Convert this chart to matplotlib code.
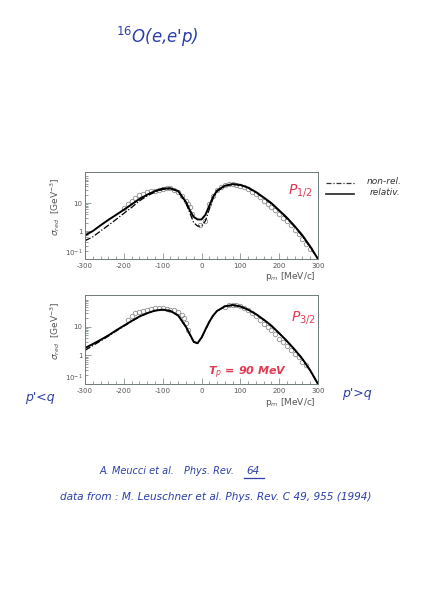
import matplotlib
matplotlib.use("Agg")
import matplotlib.pyplot as plt
from matplotlib.ticker import FixedLocator, MultipleLocator, NullFormatter

INK = "#2b3ea8"
RED = "#e23a52"
AXC = "#6f7b7b"

# p_m grid of the theory curves (MeV/c)
pm = [-300, -280, -260, -240, -220, -200, -180, -160, -140, -120, -100, -80, -60,
      -40, -30, -20, -10, 0, 10, 20, 30, 40, 60, 80, 100, 120, 140, 160, 180,
      200, 220, 240, 260, 280, 300]

# p1/2 : relativistic (solid) and non-relativistic (dash-dot)
p12_rel = [0.7, 1.0, 1.6, 2.5, 3.8, 5.8, 9.0, 14, 20, 27, 33, 34, 27,
           11, 5.5, 3.2, 2.6, 2.6, 3.8, 8.0, 17, 28, 42, 48, 45, 36, 25, 16, 10,
           5.5, 3.0, 1.5, 0.7, 0.28, 0.1]
p12_nonrel = [0.45, 0.62, 1.0, 1.6, 2.6, 4.3, 7.0, 12, 18, 25, 31, 33, 26,
              10, 4.5, 2.0, 1.5, 1.5, 2.3, 6.0, 15, 26, 41, 47, 44, 35, 24, 15.5, 9.5,
              5.2, 2.8, 1.4, 0.65, 0.26, 0.1]

# p3/2
p32_rel = [1.8, 2.5, 3.5, 5.0, 7.5, 11, 16, 23, 30, 37, 40, 36, 25,
           10, 5.5, 3.0, 2.7, 4.2, 8.0, 15, 25, 36, 52, 58, 52, 40, 28, 18, 11,
           6.0, 3.2, 1.6, 0.75, 0.3, 0.1]
p32_nonrel = [1.5, 2.2, 3.2, 4.7, 7.1, 10.5, 15.5, 22.5, 29.5, 36.5, 39.5, 35.5, 24.5,
              9.7, 5.3, 2.9, 2.6, 4.0, 7.7, 14.5, 24.5, 35.5, 51, 57, 51, 39.5, 27.5, 17.5, 10.8,
              5.9, 3.1, 1.55, 0.73, 0.29, 0.1]

# data (Leuschner et al.)
d12_x = [-200, -190, -180, -170, -160, -150, -140, -130, -120, -110, -100, -90, -80,
         -70, -60, -50, -40, -35, -30, -25, -5, 10,
         20, 30, 40, 50, 60, 70, 80, 90, 100, 110, 120, 130, 140, 150, 160, 170,
         180, 190, 200, 210, 220, 230, 240, 250, 260, 270, 280]
d12_y = [6.5, 9, 12, 15, 19, 22, 24, 27, 28, 30, 33, 35, 34,
         30, 25, 18, 12, 9, 7, 4, 1.6, 2.2,
         9, 18, 30, 38, 44, 48, 48, 46, 42, 37, 31, 26, 21, 16, 12, 9.5,
         7, 5.5, 4, 3, 2.2, 1.6, 1.1, 0.8, 0.5, 0.35, 0.22]
d32_x = [-190, -180, -170, -160, -150, -140, -130, -120, -110, -100, -90, -80,
         -70, -60, -50, -45, -40, -35,
         60, 70, 80, 90, 100, 110, 120, 130, 140, 150, 160, 170, 180, 190, 200,
         210, 220, 230, 240, 250, 260, 270]
d32_y = [18, 24, 30, 33, 36, 40, 42, 45, 44, 45, 42, 40,
         38, 32, 25, 20, 14, 8,
         50, 57, 59, 57, 52, 45, 38, 30, 24, 18, 13, 10, 7.5, 5.5, 3.8,
         3.0, 2.2, 1.6, 1.1, 0.9, 0.6, 0.45]

xticks = [-300, -200, -100, 0, 100, 200, 300]
yticks = [0.1, 1, 10]
yticklabels = ["10$^{-1}$", "1", "10"]


def panel(ax, rel, nonrel, dx, dy):
    ax.plot(dx, dy, ls="none", marker="o", ms=3.2, mfc="none", mec="#8d9090", mew=0.6)
    ax.plot(pm, nonrel, color="black", lw=0.9, dashes=(5, 1.5, 1, 1.5))
    ax.plot(pm, rel, color="black", lw=1.4)
    ax.set_yscale("log")
    ax.set_xlim(-300, 300)
    ax.set_ylim(0.1, 130)
    ax.xaxis.set_major_locator(FixedLocator(xticks))
    ax.xaxis.set_minor_locator(MultipleLocator(20))
    ax.set_xticklabels([str(t) for t in xticks])
    ax.yaxis.set_major_locator(FixedLocator(yticks))
    ax.set_yticklabels(yticklabels)
    ax.get_yticklabels()[0].set_va("bottom")
    ax.yaxis.set_minor_formatter(NullFormatter())
    ax.tick_params(which="both", direction="in", colors=AXC, labelcolor="#555", labelsize=5,
                   width=0.5)
    ax.tick_params(axis="x", pad=3)
    ax.tick_params(axis="y", pad=2)
    ax.tick_params(which="major", length=4)
    ax.tick_params(which="minor", length=2)
    for s in ax.spines.values():
        s.set_color(AXC)
        s.set_linewidth(0.7)
    ax.set_ylabel(r"$\sigma_{red}$  [GeV$^{-3}$]", fontsize=6.5, color="#555")
    ax.yaxis.set_label_coords(-0.1, 0.6)
    ax.set_xlabel(r"p$_m$ [MeV/c]", fontsize=6.5, color="#555")
    ax.xaxis.set_label_coords(0.88, -0.13)


fig = plt.figure(figsize=(4.34, 6), dpi=100)
W, H = 434, 600

ax1 = fig.add_axes([85 / W, 1 - 259 / H, 233 / W, 87 / H])
panel(ax1, p12_rel, p12_nonrel, d12_x, d12_y)
ax2 = fig.add_axes([85 / W, 1 - 384 / H, 233 / W, 89 / H])
panel(ax2, p32_rel, p32_nonrel, d32_x, d32_y)

hand = dict(fontstyle="italic", family="DejaVu Sans")

fig.text(157 / W, 1 - 37 / H, r"$^{16}$O(e,e'p)", color=INK, fontsize=12,
         ha="center", va="center", **hand)
fig.text(300 / W, 1 - 190 / H, r"P$_{1/2}$", color=RED, fontsize=10, ha="center", va="center", **hand)
fig.text(303 / W, 1 - 317 / H, r"P$_{3/2}$", color=RED, fontsize=10, ha="center", va="center", **hand)
fig.text(248 / W, 1 - 373 / H, r"T$_p$ = 90 MeV", color=RED, fontsize=8, ha="center", va="center",
         fontweight="bold", **hand)

# hand-drawn legend
fig.add_artist(plt.Line2D([326 / W, 356 / W], [1 - 183 / H] * 2, color="#333", lw=0.9,
                          dashes=(4, 1.5, 1, 1.5)))
fig.add_artist(plt.Line2D([326 / W, 354 / W], [1 - 194 / H] * 2, color="#222", lw=1.2))
fig.text(367 / W, 1 - 181 / H, "non-rel.", color="#333", fontsize=6.5, va="center", **hand)
fig.text(370 / W, 1 - 192 / H, "relativ.", color="#333", fontsize=6.5, va="center", **hand)

fig.text(40 / W, 1 - 397 / H, "p'<q", color=INK, fontsize=9, ha="center", va="center", **hand)
fig.text(357 / W, 1 - 393 / H, "p'>q", color=INK, fontsize=9, ha="center", va="center", **hand)

fig.text(100 / W, 1 - 471 / H, "A. Meucci et al.", color=INK, fontsize=7, va="center", **hand)
fig.text(184 / W, 1 - 471 / H, "Phys. Rev.", color=INK, fontsize=7, va="center", **hand)
fig.text(246 / W, 1 - 471 / H, "64", color=INK, fontsize=7.5, va="center", **hand)
fig.add_artist(plt.Line2D([244 / W, 264 / W], [1 - 478 / H] * 2, color=INK, lw=0.9))
fig.text(60 / W, 1 - 497 / H, "data from : M. Leuschner et al. Phys. Rev. C 49, 955 (1994)",
         color=INK, fontsize=7.6, va="center", **hand)

fig.savefig("out.png", dpi=100, facecolor="white")
